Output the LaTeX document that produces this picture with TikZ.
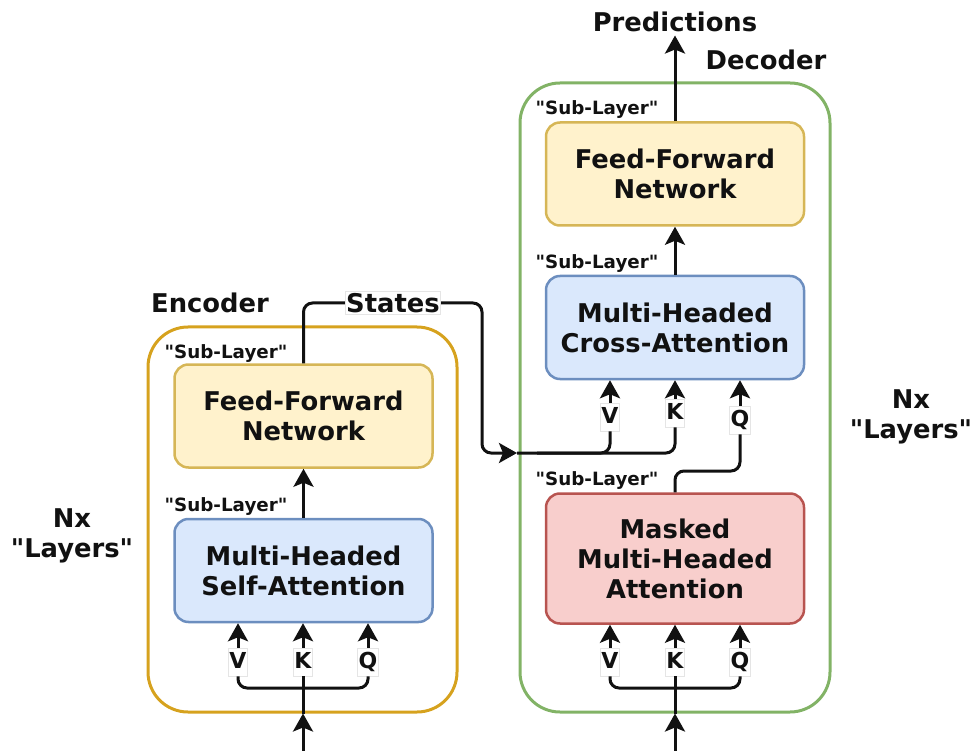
\documentclass[tikz,border=0pt]{standalone}
\usepackage{fontspec}
\setmainfont{DejaVu Sans}[Ligatures=TeXOff]
\usetikzlibrary{arrows.meta,calc}
\definecolor{ffnfill}{HTML}{FFF2CC}
\definecolor{ffndraw}{HTML}{D6B656}
\definecolor{attfill}{HTML}{DAE8FC}
\definecolor{attdraw}{HTML}{6C8EBF}
\definecolor{mskfill}{HTML}{F8CECC}
\definecolor{mskdraw}{HTML}{B85450}
\definecolor{encol}{HTML}{D6A21E}
\definecolor{decol}{HTML}{82B366}
\definecolor{txt}{HTML}{111111}
\tikzset{
  big/.style={font=\bfseries\fontsize{25.8}{30}\selectfont, text=txt},
  sublab/.style={font=\bfseries\fontsize{18.3}{20}\selectfont, text=txt},
  block/.style={big, align=center, rounded corners=14pt, line width=2.5pt,
    minimum width=258pt, inner sep=0pt},
  ffnbox/.style={block, fill=ffnfill, draw=ffndraw, minimum height=103pt},
  attbox/.style={block, fill=attfill, draw=attdraw, minimum height=103pt},
  mskbox/.style={block, fill=mskfill, draw=mskdraw, minimum height=130pt},
  outerbox/.style={rounded corners=40pt, line width=3pt, inner sep=0pt},
  vkq/.style={font=\bfseries\fontsize{22}{24}\selectfont, text=txt, fill=white,
    draw=black!10, line width=0.6pt, inner xsep=1pt, inner ysep=4pt,
    text height=16pt, text depth=4pt},
  conn/.style={line width=3pt, draw=txt},
  arr/.style={conn, -{Stealth[length=18pt,width=20pt,inset=4pt]}},
  rc/.style={rounded corners=9pt},
}
\begin{document}
\begin{tikzpicture}[x=1pt,y=-1pt]
\useasboundingbox (0,0) rectangle (972,751);
% outer boxes
\node[outerbox, draw=encol, minimum width=309pt, minimum height=385pt] (enc) at (302.5,519.5) {};
\node[outerbox, draw=decol, minimum width=310pt, minimum height=629pt] (dec) at (675,397.5) {};
% titles
\node[big] (enclab) at (210,303) {Encoder};
\node[big] (declab) at (766,60) {Decoder};
\node[big] (pred) at (675,22) {Predictions};
\node[big, fill=white, draw=black!10, line width=0.6pt, inner xsep=1pt, inner ysep=2pt] (states) at (393,303) {States};
\node[big, align=center] (nxl) at (72,536) {Nx\\"Layers"};
\node[big, align=center] (nxr) at (911,417) {Nx\\"Layers"};
% encoder blocks
\node[ffnbox] (effn) at (303.5,416) {Feed-Forward\\Network};
\node[attbox] (eatt) at (303.5,570.5) {Multi-Headed\\Self-Attention};
\node[sublab] (esl1) at (226,354) {"Sub-Layer"};
\node[sublab] (esl2) at (226,507) {"Sub-Layer"};
% decoder blocks
\node[ffnbox] (dffn) at (675,174) {Feed-Forward\\Network};
\node[attbox] (datt) at (675,327.5) {Multi-Headed\\Cross-Attention};
\node[mskbox] (dmsk) at (675,558.5) {Masked\\Multi-Headed\\Attention};
\node[sublab] (dsl1) at (597,110) {"Sub-Layer"};
\node[sublab] (dsl2) at (597,264) {"Sub-Layer"};
\node[sublab] (dsl3) at (597,481) {"Sub-Layer"};
% V K Q labels
\node[vkq] (ev) at (238,662) {V};
\node[vkq] (ek) at (303,662) {K};
\node[vkq] (eq) at (368,662) {Q};
\node[vkq] (mv) at (610,662) {V};
\node[vkq] (mk) at (675,662) {K};
\node[vkq] (mq) at (740,662) {Q};
\node[vkq] (cv) at (610,417) {V};
\node[vkq] (ck) at (675,413) {K};
\node[vkq] (cq) at (740,420) {Q};
% coordinates
\coordinate (ein) at (303,751);
\coordinate (ebr) at (303,688);
\coordinate (din) at (675,751);
\coordinate (dbr) at (675,688);
\coordinate (sbend) at (482,303);
\coordinate (sarr) at (517,453);
\coordinate (qbend) at (740,471);
% encoder connectors
\draw[arr] (ein) -- (ein |- enc.south);
\draw[conn] (ein |- enc.south) -- (ek.south);
\draw[conn, rc] (ev.south) |- (ebr) -| (eq.south);
\draw[arr] (ev.north) -- (ev |- eatt.south);
\draw[arr] (ek.north) -- (ek |- eatt.south);
\draw[arr] (eq.north) -- (eq |- eatt.south);
\draw[arr] (eatt.north) -- (effn.south);
\draw[conn, rc] (effn.north) |- (states.west);
\draw[arr, rc] (states.east) -- (sbend) |- (sarr);
% decoder connectors
\draw[arr] (din) -- (din |- dec.south);
\draw[conn] (din |- dec.south) -- (mk.south);
\draw[conn, rc] (mv.south) |- (dbr) -| (mq.south);
\draw[arr] (mv.north) -- (mv |- dmsk.south);
\draw[arr] (mk.north) -- (mk |- dmsk.south);
\draw[arr] (mq.north) -- (mq |- dmsk.south);
\draw[conn, rc] (sarr) -| (ck.south);
\draw[conn, rc] (cv.south) |- ($(sarr)+(20,0)$);
\draw[conn, rc] (dmsk.north) |- (qbend) -- (cq.south);
\draw[arr] (cv.north) -- (cv |- datt.south);
\draw[arr] (ck.north) -- (ck |- datt.south);
\draw[arr] (cq.north) -- (cq |- datt.south);
\draw[arr] (datt.north) -- (dffn.south);
\draw[arr] (dffn.north) -- (pred.south);
\end{tikzpicture}
\end{document}
